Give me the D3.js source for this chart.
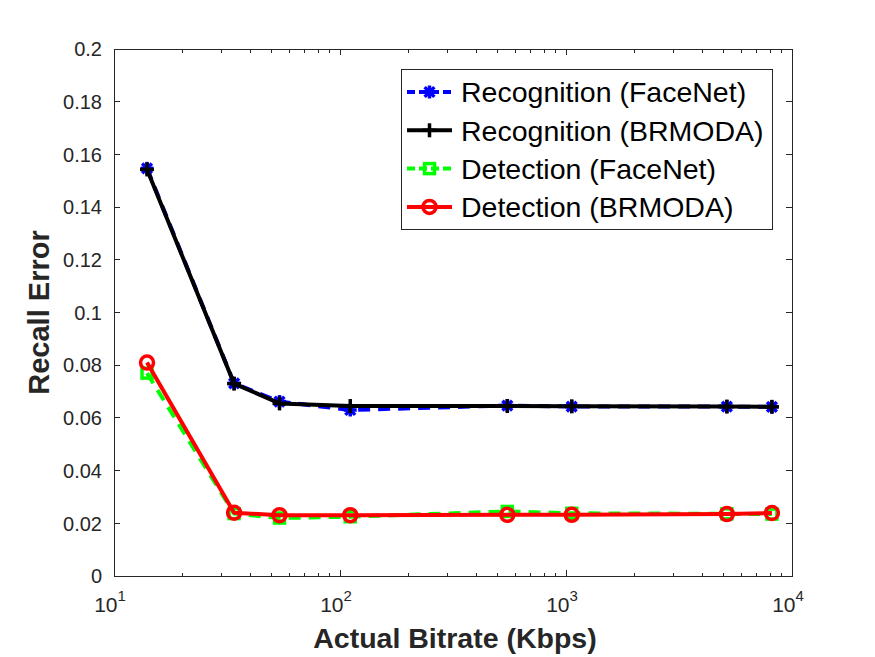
<!DOCTYPE html>
<html>
<head>
<meta charset="utf-8">
<script src="https://cdn.jsdelivr.net/npm/d3@7"></script>
<style>
  body { margin: 0; background: #fff; }
  svg { font-family: "Liberation Sans", Arial, Helvetica, sans-serif; }
</style>
</head>
<body>
<div class="chart"></div>
<script>
// bitrate (Kbps) at each operating point
const bitrates = [14, 34, 54, 111, 550, 1060, 5150, 8150]
const recogFaceNet = [0.1547, 0.0731, 0.0662, 0.0630, 0.0647, 0.0643, 0.0643, 0.0642]
const recogBRMODA = [0.1543, 0.0730, 0.0655, 0.0645, 0.0645, 0.0644, 0.0643, 0.0642]
const detFaceNet = [0.0770, 0.0237, 0.0220, 0.0225, 0.0245, 0.0238, 0.0236, 0.0235]
const detBRMODA = [0.0810, 0.0240, 0.0231, 0.0231, 0.0232, 0.0232, 0.0235, 0.0239]
const yTicks = [0, 0.02, 0.04, 0.06, 0.08, 0.1, 0.12, 0.14, 0.16, 0.18, 0.2]
const xTicks = [10, 100, 1000, 10000]

const series = [
  { name: 'Recognition (FaceNet)', values: recogFaceNet, color: '#0000ff', dash: '12,8', marker: 'star' },
  { name: 'Recognition (BRMODA)', values: recogBRMODA, color: '#000000', dash: null, marker: 'plus' },
  { name: 'Detection (FaceNet)', values: detFaceNet, color: '#00ff00', dash: '12,8', marker: 'square' },
  { name: 'Detection (BRMODA)', values: detBRMODA, color: '#ff0000', dash: null, marker: 'circle' }
]

const width = 875
const height = 657
const margin = { left: 114, right: 83, top: 49, bottom: 81 }
const axisColor = '#262626'

const svg = d3.select('.chart').append('svg')
  .attr('width', width)
  .attr('height', height)

const x = d3.scaleLog().domain([10, 10000]).range([margin.left, width - margin.right])
const y = d3.scaleLinear().domain([0, 0.2]).range([height - margin.bottom, margin.top])

const x0 = x.range()[0], x1 = x.range()[1]
const y0 = y.range()[0], y1 = y.range()[1]

// 坐标轴 - ticks point inward like MATLAB, mirrored on top/right
const axes = svg.append('g').attr('stroke', axisColor).attr('stroke-width', 1).attr('shape-rendering', 'crispEdges')
axes.append('rect')
  .attr('x', x0).attr('y', y1)
  .attr('width', x1 - x0).attr('height', y0 - y1)
  .attr('fill', 'none')

yTicks.forEach(t => {
  axes.append('line').attr('x1', x0).attr('x2', x0 + 6).attr('y1', y(t)).attr('y2', y(t))
  axes.append('line').attr('x1', x1).attr('x2', x1 - 6).attr('y1', y(t)).attr('y2', y(t))
})

const minorTicks = []
for (let d = 10; d < 10000; d *= 10) {
  for (let k = 2; k <= 9; k++) minorTicks.push(d * k)
}
xTicks.forEach(t => {
  axes.append('line').attr('x1', x(t)).attr('x2', x(t)).attr('y1', y0).attr('y2', y0 - 6)
  axes.append('line').attr('x1', x(t)).attr('x2', x(t)).attr('y1', y1).attr('y2', y1 + 6)
})
minorTicks.forEach(t => {
  axes.append('line').attr('x1', x(t)).attr('x2', x(t)).attr('y1', y0).attr('y2', y0 - 3.5)
  axes.append('line').attr('x1', x(t)).attr('x2', x(t)).attr('y1', y1).attr('y2', y1 + 3.5)
})

// tick labels
svg.append('g')
  .selectAll('text')
  .data(yTicks)
  .join('text')
  .attr('x', x0 - 12)
  .attr('y', d => y(d))
  .attr('dy', '0.36em')
  .attr('text-anchor', 'end')
  .attr('font-size', 20)
  .attr('fill', axisColor)
  .text(d => d3.format('~g')(d))

const xl = svg.append('g')
  .selectAll('text')
  .data(xTicks)
  .join('text')
  .attr('x', d => x(d) - 4)
  .attr('y', y0 + 36)
  .attr('text-anchor', 'middle')
  .attr('font-size', 21)
  .attr('fill', axisColor)
xl.append('tspan').text('10')
xl.append('tspan').attr('dy', -11).attr('font-size', 15).text(d => Math.round(Math.log10(d)))

// axis titles
svg.append('text')
  .attr('x', (x0 + x1) / 2 + 2)
  .attr('y', 648)
  .attr('text-anchor', 'middle')
  .attr('font-size', 28.5)
  .attr('font-weight', 'bold')
  .attr('fill', axisColor)
  .text('Actual Bitrate (Kbps)')

svg.append('text')
  .attr('transform', `translate(49,${(y0 + y1) / 2}) rotate(-90)`)
  .attr('text-anchor', 'middle')
  .attr('font-size', 29)
  .attr('font-weight', 'bold')
  .attr('fill', axisColor)
  .text('Recall Error')

// 绘制标记
function drawMarker(g, type, color, cx, cy) {
  if (type === 'star') {
    const r = 6.5
    const p = g.append('g').attr('stroke', color).attr('stroke-width', 3.5)
    p.append('line').attr('x1', cx - r).attr('x2', cx + r).attr('y1', cy).attr('y2', cy)
    p.append('line').attr('x1', cx).attr('x2', cx).attr('y1', cy - r).attr('y2', cy + r)
    p.append('line').attr('x1', cx - r * 0.75).attr('x2', cx + r * 0.75).attr('y1', cy - r * 0.75).attr('y2', cy + r * 0.75)
    p.append('line').attr('x1', cx - r * 0.75).attr('x2', cx + r * 0.75).attr('y1', cy + r * 0.75).attr('y2', cy - r * 0.75)
  } else if (type === 'plus') {
    const r = 7
    const p = g.append('g').attr('stroke', color).attr('stroke-width', 3.5)
    p.append('line').attr('x1', cx - r).attr('x2', cx + r).attr('y1', cy).attr('y2', cy)
    p.append('line').attr('x1', cx).attr('x2', cx).attr('y1', cy - r).attr('y2', cy + r)
  } else if (type === 'square') {
    g.append('rect')
      .attr('x', cx - 5).attr('y', cy - 5).attr('width', 10).attr('height', 10)
      .attr('fill', 'none').attr('stroke', color).attr('stroke-width', 3.5)
  } else if (type === 'circle') {
    g.append('circle')
      .attr('cx', cx).attr('cy', cy).attr('r', 6.5)
      .attr('fill', 'none').attr('stroke', color).attr('stroke-width', 3.5)
  }
}

const line = d3.line()
  .x(d => x(d[0]))
  .y(d => y(d[1]))

const plot = svg.append('g')
series.forEach(s => {
  const pts = bitrates.map((b, i) => [b, s.values[i]])
  plot.append('path')
    .datum(pts)
    .attr('d', line)
    .attr('fill', 'none')
    .attr('stroke', s.color)
    .attr('stroke-width', 4)
    .attr('stroke-linejoin', 'round')
    .attr('stroke-dasharray', s.dash)
  const mg = plot.append('g')
  pts.forEach(p => drawMarker(mg, s.marker, s.color, x(p[0]), y(p[1])))
})

// 图例
const legend = svg.append('g')
legend.append('rect')
  .attr('x', 401).attr('y', 69)
  .attr('width', 371).attr('height', 160)
  .attr('fill', '#fff')
  .attr('stroke', axisColor)
  .attr('stroke-width', 1)
  .attr('shape-rendering', 'crispEdges')

series.forEach((s, i) => {
  const cy = 92 + i * 38.3
  legend.append('line')
    .attr('x1', 407).attr('x2', 452)
    .attr('y1', cy).attr('y2', cy)
    .attr('stroke', s.color)
    .attr('stroke-width', 4)
    .attr('stroke-dasharray', s.dash ? '8,4' : null)
  drawMarker(legend, s.marker, s.color, 429.5, cy)
  legend.append('text')
    .attr('x', 461)
    .attr('y', cy)
    .attr('dy', '0.36em')
    .attr('font-size', 28.5)
    .attr('fill', '#000')
    .text(s.name)
})
</script>
</body>
</html>
